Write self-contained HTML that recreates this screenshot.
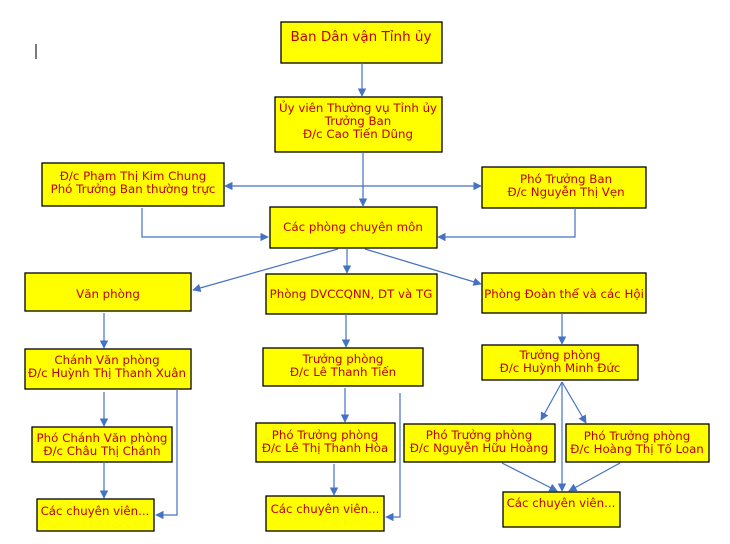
<!DOCTYPE html>
<html><head><meta charset="utf-8"><style>
html,body{margin:0;padding:0;background:#fff;}
svg{display:block;}
text{font-family:"DejaVu Sans","Liberation Sans",sans-serif;font-size:11.8px;fill:#c00000;text-anchor:middle;}
rect{fill:#ffff00;stroke:#000;stroke-width:1.3;}
line,polyline{stroke:#4472c4;stroke-width:1.2;fill:none;}
</style></head><body>
<svg width="730" height="544" viewBox="0 0 730 544">
<defs><marker id="a" viewBox="0 0 10 10" refX="9" refY="5" markerWidth="7" markerHeight="7" orient="auto-start-reverse"><path d="M0,0 L10,5 L0,10 z" fill="#4472c4"/></marker></defs>
<line x1="36" y1="44" x2="36" y2="59" style="stroke:#222;stroke-width:1.2"/>
<rect x="281" y="22" width="161" height="41"/>
<text x="361" y="41" style="font-size:13.5px">Ban Dân vận Tỉnh ủy</text>
<rect x="275" y="97" width="167" height="55"/>
<text x="358" y="112">Ủy viên Thường vụ Tỉnh ủy</text>
<text x="358" y="125">Trưởng Ban</text>
<text x="358" y="138">Đ/c Cao Tiến Dũng</text>
<rect x="42" y="163" width="182" height="43"/>
<text x="133" y="180">Đ/c Phạm Thị Kim Chung</text>
<text x="133" y="193">Phó Trưởng Ban thường trực</text>
<rect x="482" y="167" width="164" height="41"/>
<text x="566" y="183">Phó Trưởng Ban</text>
<text x="566" y="196">Đ/c Nguyễn Thị Vẹn</text>
<rect x="270" y="207" width="167" height="41"/>
<text x="353" y="231">Các phòng chuyên môn</text>
<rect x="25" y="273" width="166" height="38"/>
<text x="108" y="298">Văn phòng</text>
<rect x="266" y="274" width="171" height="40"/>
<text x="351" y="298">Phòng DVCCQNN, DT và TG</text>
<rect x="482" y="273" width="164" height="40"/>
<text x="564" y="298">Phòng Đoàn thể và các Hội</text>
<rect x="25" y="349" width="166" height="40"/>
<text x="107" y="364">Chánh Văn phòng</text>
<text x="107" y="377">Đ/c Huỳnh Thị Thanh Xuân</text>
<rect x="263" y="348" width="160" height="38"/>
<text x="343" y="363">Trưởng phòng</text>
<text x="343" y="376">Đ/c Lê Thanh Tiến</text>
<rect x="482" y="345" width="156" height="35"/>
<text x="560" y="359">Trưởng phòng</text>
<text x="560" y="372">Đ/c Huỳnh Minh Đức</text>
<rect x="32" y="427" width="140" height="35"/>
<text x="102" y="442">Phó Chánh Văn phòng</text>
<text x="102" y="455">Đ/c Châu Thị Chánh</text>
<rect x="256" y="423" width="139" height="39"/>
<text x="325" y="439">Phó Trưởng phòng</text>
<text x="325" y="452">Đ/c Lê Thị Thanh Hòa</text>
<rect x="404" y="424" width="151" height="38"/>
<text x="479" y="439">Phó Trưởng phòng</text>
<text x="479" y="452">Đ/c Nguyễn Hữu Hoàng</text>
<rect x="566" y="424" width="143" height="38"/>
<text x="637" y="440">Phó Trưởng phòng</text>
<text x="637" y="453">Đ/c Hoàng Thị Tố Loan</text>
<rect x="37" y="499" width="117" height="32"/>
<text x="95" y="515">Các chuyên viên...</text>
<rect x="266" y="496" width="118" height="35"/>
<text x="325" y="513">Các chuyên viên...</text>
<rect x="503" y="492" width="117" height="35"/>
<text x="561" y="507">Các chuyên viên...</text>
<line x1="362" y1="63" x2="362" y2="96" marker-end="url(#a)"/>
<line x1="363" y1="152" x2="363" y2="206" marker-end="url(#a)"/>
<line x1="225" y1="186" x2="481" y2="186" marker-start="url(#a)" marker-end="url(#a)"/>
<polyline points="142,208 142,237 268,237" marker-end="url(#a)"/>
<polyline points="575,208 575,237 438,237" marker-end="url(#a)"/>
<line x1="338" y1="249" x2="193" y2="290" marker-end="url(#a)"/>
<line x1="347" y1="249" x2="347" y2="273" marker-end="url(#a)"/>
<line x1="365" y1="249" x2="481" y2="284" marker-end="url(#a)"/>
<line x1="104" y1="313" x2="104" y2="348" marker-end="url(#a)"/>
<line x1="104" y1="392" x2="104" y2="426" marker-end="url(#a)"/>
<line x1="104" y1="462" x2="104" y2="498" marker-end="url(#a)"/>
<polyline points="177,389 177,515 156,515" marker-end="url(#a)"/>
<line x1="346" y1="314" x2="346" y2="347" marker-end="url(#a)"/>
<line x1="345" y1="388" x2="345" y2="422" marker-end="url(#a)"/>
<line x1="334" y1="464" x2="334" y2="495" marker-end="url(#a)"/>
<polyline points="400,393 400,517 386,517" marker-end="url(#a)"/>
<line x1="562" y1="313" x2="562" y2="344" marker-end="url(#a)"/>
<line x1="562" y1="382" x2="541" y2="420" marker-end="url(#a)"/>
<line x1="562" y1="382" x2="562" y2="491" marker-end="url(#a)"/>
<line x1="562" y1="382" x2="586" y2="423" marker-end="url(#a)"/>
<line x1="502" y1="463" x2="557" y2="491" marker-end="url(#a)"/>
<line x1="620" y1="463" x2="569" y2="491" marker-end="url(#a)"/>
</svg>
</body></html>
